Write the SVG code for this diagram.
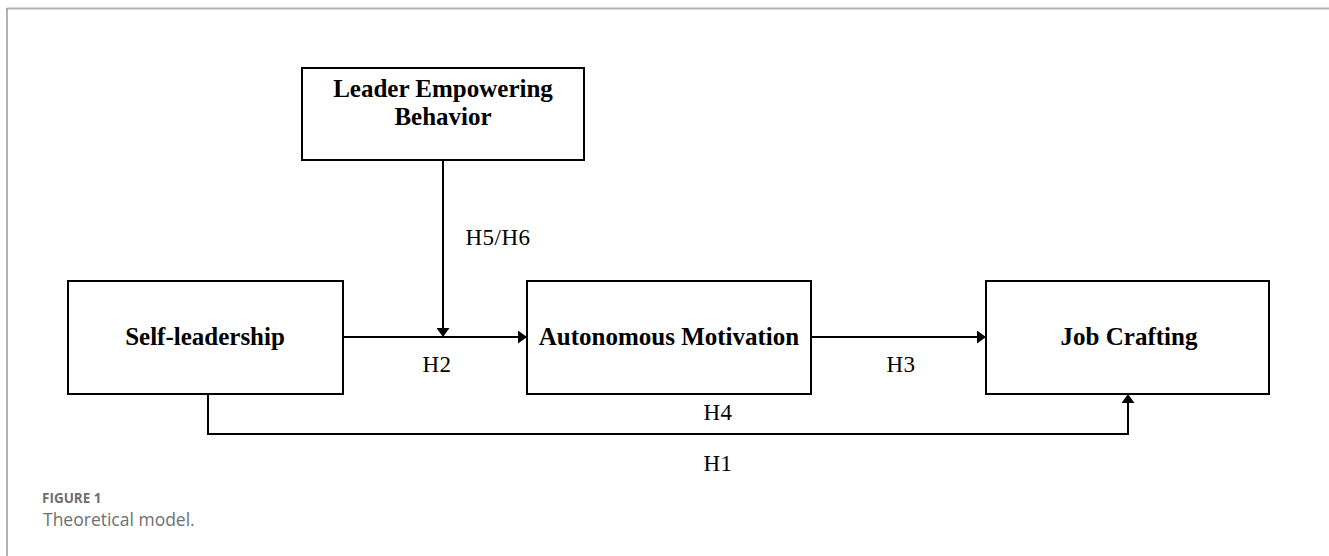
<svg xmlns="http://www.w3.org/2000/svg" width="1329" height="556" viewBox="0 0 1329 556">
<defs>
<style>
.box{fill:#fff;stroke:#000;stroke-width:2}
.lbl{font-family:"Liberation Serif","Times New Roman",serif;font-weight:bold;font-size:25px;text-anchor:middle;fill:#000}
.h{font-family:"Liberation Serif","Times New Roman",serif;font-size:23px;letter-spacing:0.5px;text-anchor:middle;fill:#000}
.ln{fill:none;stroke:#000;stroke-width:2}
.cap1{font-family:"Open Sans","Noto Sans",sans-serif;font-weight:bold;font-size:13.5px;fill:#6d6e71}
.cap2{font-family:"Open Sans","Noto Sans",sans-serif;font-size:17.5px;fill:#6d6e71}
</style>
<marker id="ah" viewBox="0 0 9 13" refX="9" refY="6.5" markerWidth="9" markerHeight="13" orient="auto" markerUnits="userSpaceOnUse">
<path d="M0,0 L9,6.5 L0,13 z" fill="#000"/>
</marker>
</defs>
<rect width="1329" height="556" fill="#fff"/>
<g id="frame">
<line x1="7" y1="8.5" x2="1329" y2="8.5" stroke="#b3b3b3" stroke-width="2"/>
<line x1="7" y1="8" x2="7" y2="556" stroke="#999" stroke-width="1.5"/>
</g>
<g id="connectors">
<path class="ln" d="M343,337 H527" marker-end="url(#ah)"/>
<path class="ln" d="M443,160 V337" marker-end="url(#ah)"/>
<path class="ln" d="M811,337 H986" marker-end="url(#ah)"/>
<path class="ln" d="M208,394 V434 H1128 V394" marker-end="url(#ah)"/>
<text class="h" x="498" y="245">H5/H6</text>
<text class="h" x="437" y="372">H2</text>
<text class="h" x="901" y="372">H3</text>
<text class="h" x="718" y="420">H4</text>
<text class="h" x="718" y="471">H1</text>
</g>
<g id="leader">
<rect class="box" x="302" y="68" width="282" height="92"/>
<text class="lbl" x="443" y="97">Leader Empowering</text>
<text class="lbl" x="443" y="125">Behavior</text>
</g>
<g id="self">
<rect class="box" x="68" y="281" width="275" height="113"/>
<text class="lbl" x="205" y="345">Self-leadership</text>
</g>
<g id="auto">
<rect class="box" x="527" y="281" width="284" height="113"/>
<text class="lbl" x="669" y="345">Autonomous Motivation</text>
</g>
<g id="job">
<rect class="box" x="986" y="281" width="283" height="113"/>
<text class="lbl" x="1129" y="345">Job Crafting</text>
</g>
<g id="caption">
<text class="cap1" x="42" y="503">FIGURE 1</text>
<text class="cap2" x="43" y="526">Theoretical model.</text>
</g>
</svg>
